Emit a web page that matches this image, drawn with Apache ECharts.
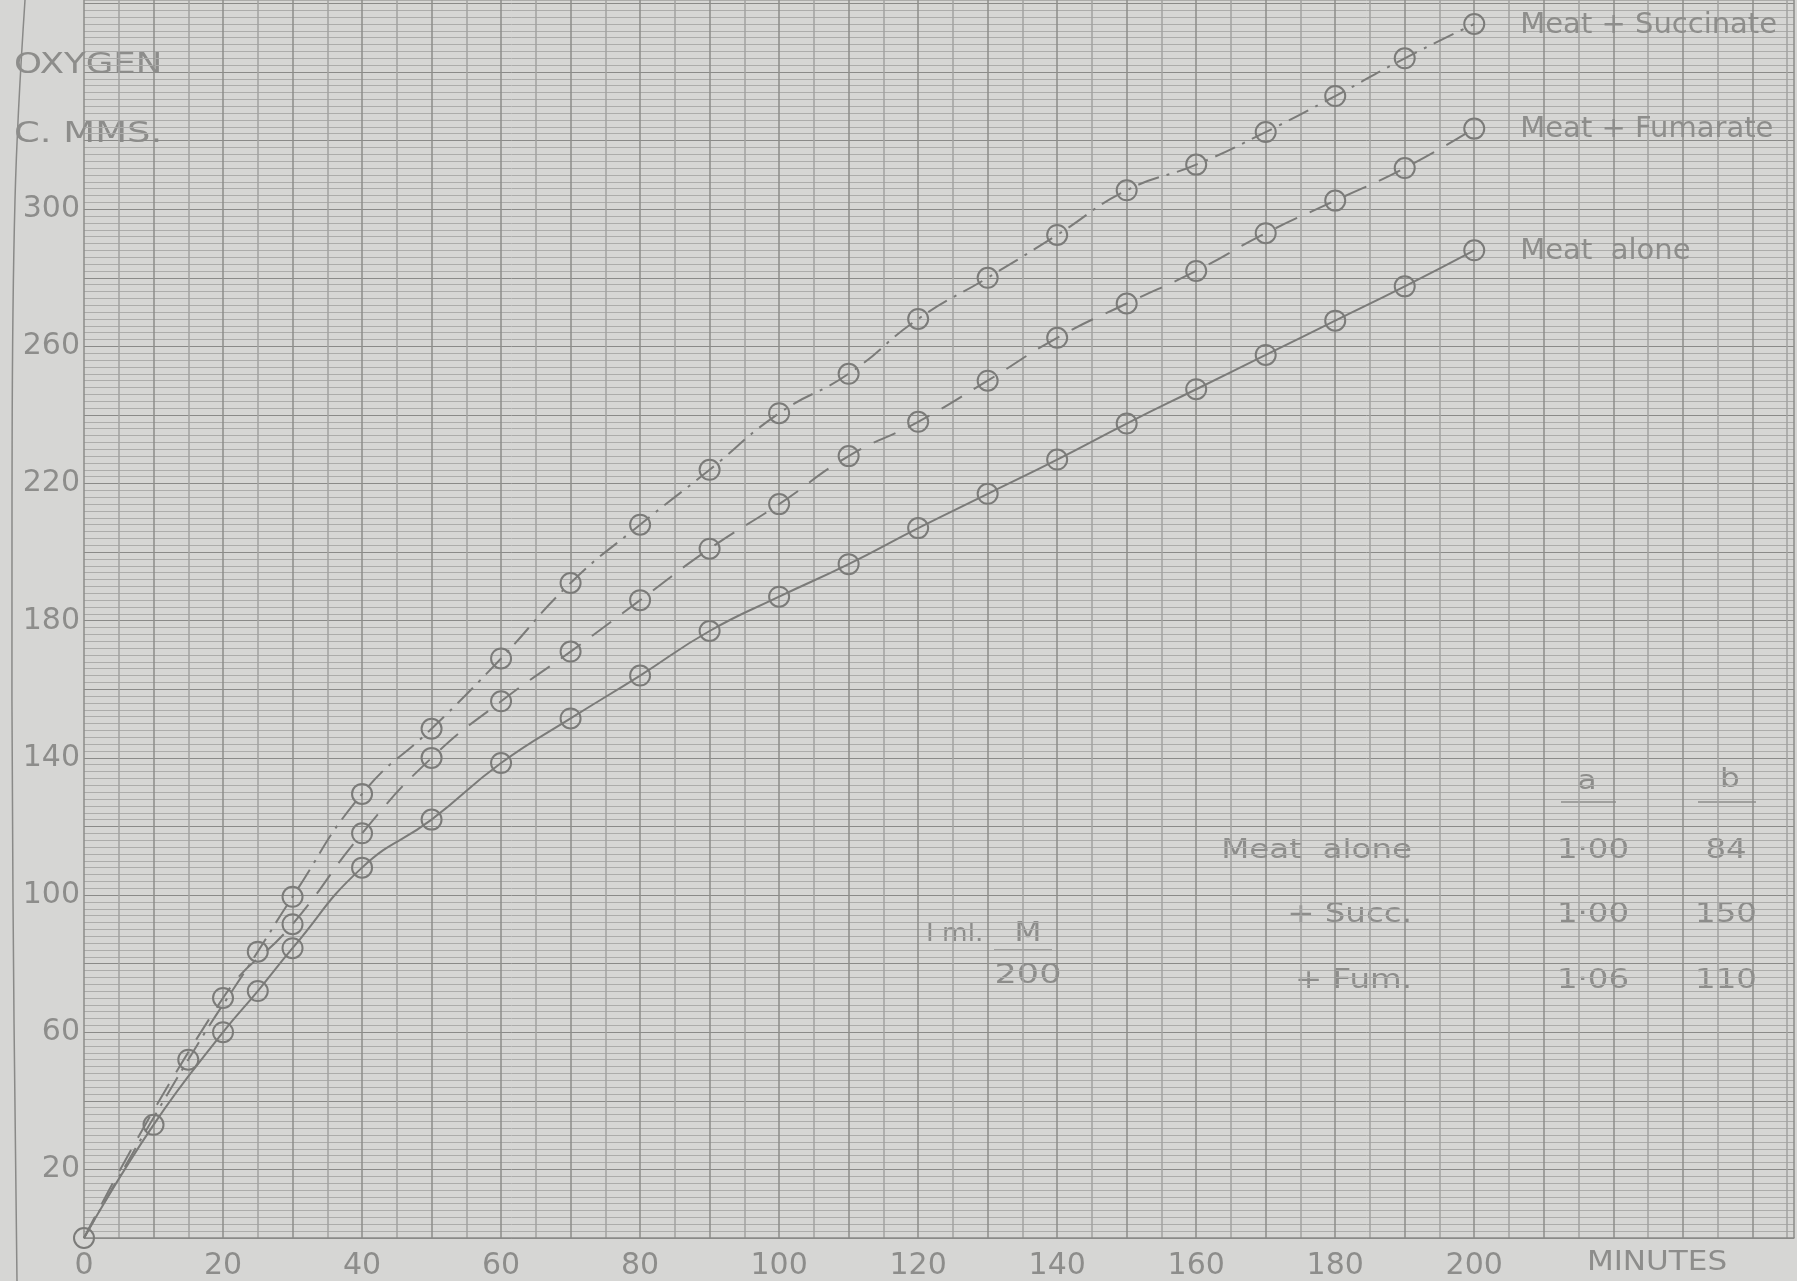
<!DOCTYPE html>
<html>
<head>
<meta charset="utf-8">
<title>Oxygen uptake – meat with succinate and fumarate</title>
<script src="https://cdn.jsdelivr.net/npm/echarts@6/dist/echarts.min.js"></script>
<style>
  html, body { margin: 0; padding: 0; background: #d6d6d4; }
  #chart { width: 1797px; height: 1281px; }
</style>
</head>
<body>
<div id="chart"></div>
<script>
// Oxygen taken up (c. mm.) against time (minutes)
const xTickLabels = [0, 20, 40, 60, 80, 100, 120, 140, 160, 180, 200];
const yTickLabels = [20, 60, 100, 140, 180, 220, 260, 300];

const meatAlone = [[0, 0], [10, 33], [20, 60], [25, 72], [30, 84.5], [40, 108], [50, 122],
  [60, 138.5], [70, 151.5], [80, 164], [90, 177], [100, 187], [110, 196.5], [120, 207],
  [130, 217], [140, 227], [150, 237.5], [160, 247.5], [170, 257.5], [180, 267.5],
  [190, 277.5], [200, 288]];
const meatSuccinate = [[0, 0], [15, 52], [25, 83.5], [30, 99.5], [40, 129.5], [50, 148.5],
  [60, 169], [70, 191], [80, 208], [90, 224], [100, 240.5], [110, 252], [120, 268],
  [130, 280], [140, 292.5], [150, 305.5], [160, 313], [170, 322.5], [180, 333],
  [190, 344], [200, 354]];
const meatFumarate = [[0, 0], [20, 70], [30, 91.5], [40, 118], [50, 140], [60, 156.5],
  [70, 171], [80, 186], [90, 201], [100, 214], [110, 228], [120, 238], [130, 250],
  [140, 262.5], [150, 272.5], [160, 282], [170, 293], [180, 302.5], [190, 312], [200, 323.5]];

const seriesNames = ['Meat + Succinate', 'Meat + Fumarate', 'Meat  alone'];

// constants table
const tableRows = ['Meat  alone', '+ Succ.', '+ Fum.'];
const tableA = ['1·00', '1·00', '1·06'];
const tableB = ['84', '150', '110'];

const INK = '#8d8d8b';
const CURVE = '#7b7b79';
const FONT = '"DejaVu Sans", "Noto Sans", sans-serif';

// 10-minute rulings darker than the 5-minute ones
const vLineColors = ['#8c8c8a', '#a2a2a0'];
// heavy ruling every 20 units, fine ones every 2
const hLineColors = ['#8a8a88'].concat(new Array(9).fill('#acacaa'));

function curve(name, data, dash) {
  return {
    name: name,
    type: 'line',
    data: data.map((p, i) => (i === 0 && name !== seriesNames[2]) ? { value: p, symbol: 'none' } : p),
    smooth: 0.5,
    symbol: 'circle',
    symbolSize: 20,
    itemStyle: { color: 'rgba(0,0,0,0)', borderColor: CURVE, borderWidth: 2 },
    lineStyle: { color: CURVE, width: 2, type: dash },
    emphasis: { disabled: true },
    silent: true,
    z: 5,
    endLabel: {
      show: true,
      formatter: '{a}',
      distance: 46,
      offset: [0, 1],
      color: INK,
      fontFamily: FONT,
      fontSize: 29
    }
  };
}

// lettering is wide, so text is stretched horizontally about its anchor
function txt(x, y, text, size, align, sx) {
  return {
    type: 'text', x: x, y: y, scaleX: sx || 1, silent: true,
    style: {
      text: text, fill: INK, font: size + 'px ' + FONT,
      textAlign: align || 'left', textVerticalAlign: 'middle'
    }
  };
}

function rule(x1, x2, y) {
  return {
    type: 'line', silent: true,
    shape: { x1: x1, y1: y, x2: x2, y2: y },
    style: { stroke: '#8e8e8c', lineWidth: 1.5 }
  };
}

const graphics = [
  {
    type: 'polyline', silent: true,
    shape: { points: [[25, 0], [15, 200], [12, 500], [13, 900], [17, 1281]], smooth: 0.4 },
    style: { stroke: '#8a8a88', lineWidth: 1.5, fill: null }
  },
  txt(14, 66, 'OXYGEN', 28, 'left', 1.27),
  txt(14, 135, 'C. MMS.', 28, 'left', 1.32),
  txt(1657, 1263, 'MINUTES', 27, 'center', 1.15),
  txt(926, 934, 'I ml.', 25, 'left', 1.05),
  txt(1028, 934, 'M', 26, 'center', 1.2),
  rule(994, 1052, 950),
  txt(1028, 976, '200', 27, 'center', 1.3),
  txt(1587, 782, 'a', 26, 'center', 1.2),
  rule(1561, 1616, 802),
  txt(1730, 780, 'b', 26, 'center', 1.2),
  rule(1698, 1756, 802)
];
const rowY = [851, 915, 981];
tableRows.forEach((r, i) => {
  graphics.push(txt(1412, rowY[i], r, 26, 'right', 1.25));
  graphics.push(txt(1593, rowY[i], tableA[i], 27, 'center', 1.2));
  graphics.push(txt(1726, rowY[i], tableB[i], 27, 'center', 1.2));
});

const chart = echarts.init(document.getElementById('chart'), null, { renderer: 'canvas' });
chart.setOption({
  backgroundColor: '#d6d6d4',
  animation: false,
  grid: { left: 84, right: 0, top: 0, bottom: 43 },
  xAxis: {
    type: 'value', min: 0, max: 246, interval: 5,
    axisLine: { show: true, lineStyle: { color: '#8a8a88', width: 1.5 } },
    axisTick: { show: false },
    axisLabel: {
      margin: 13, color: INK, fontFamily: FONT, fontSize: 30,
      formatter: v => xTickLabels.includes(v) ? String(v) : ''
    },
    splitLine: { show: true, lineStyle: { color: vLineColors, width: 1.5 } }
  },
  yAxis: {
    type: 'value', min: 0, max: 361, interval: 2,
    axisLine: { show: false },
    axisTick: { show: false },
    axisLabel: {
      margin: 4, color: INK, fontFamily: FONT, fontSize: 30,
      formatter: v => yTickLabels.includes(v) ? String(v) : ''
    },
    splitLine: { show: true, lineStyle: { color: hLineColors, width: 1 } }
  },
  series: [
    curve(seriesNames[0], meatSuccinate, [22, 8, 3, 8]),
    curve(seriesNames[1], meatFumarate, [24, 14]),
    curve(seriesNames[2], meatAlone, 'solid')
  ],
  graphic: graphics
});
</script>
</body>
</html>
